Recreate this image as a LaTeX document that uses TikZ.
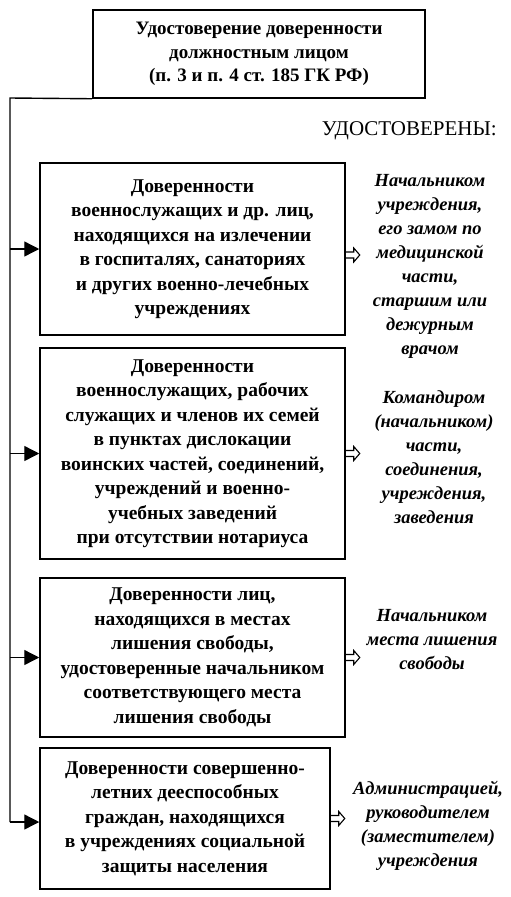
\documentclass[tikz,border=0pt]{standalone}
\usepackage{fontspec}
\setmainfont{Liberation Serif}
\usetikzlibrary{arrows.meta}
\begin{document}
\begin{tikzpicture}[x=1pt,y=-1pt,
  box/.style={draw, line width=1.5pt, inner sep=0pt, align=center,
    font=\bfseries\fontsize{19.5}{24.5}\selectfont},
  lab/.style={align=center, inner sep=0pt, font=\bfseries\itshape\fontsize{18.5}{24}\selectfont},
  feed/.style={line width=1.4pt, -{Triangle[length=15pt,width=15pt]}},
  holarrow/.pic={\draw[line width=1.1pt, line join=miter] (0,-3) -- (8,-3) -- (8,-7) -- (14,0) -- (8,7) -- (8,3) -- (0,3);}]
\useasboundingbox (0,0) rectangle (511,897);
\node[box, minimum width=332pt, minimum height=88pt, font=\bfseries\fontsize{19}{23.5}\selectfont] (top) at (259,54)
  {Удостоверение доверенности\\ должностным лицом\\ (п. 3 и п. 4 ст. 185 ГК РФ)};
\node[anchor=east, inner sep=0pt, font=\fontsize{21}{24}\selectfont] (ud) at (497,131) {УДОСТОВЕРЕНЫ:};

\node[box, minimum width=305pt, minimum height=172pt] (b1) at (192.5,249)
  {Доверенности\\ военнослужащих и др. лиц,\\ находящихся на излечении\\ в госпиталях, санаториях\\ и других военно-лечебных\\ учреждениях};
\node[box, minimum width=305pt, minimum height=211pt] (b2) at (192.5,453.5)
  {Доверенности\\ военнослужащих, рабочих\\ служащих и членов их семей\\ в пунктах дислокации\\ воинских частей, соединений,\\ учреждений и военно-\\ учебных заведений\\ при отсутствии нотариуса};
\node[box, minimum width=305pt, minimum height=159pt] (b3) at (192.5,657.5)
  {Доверенности лиц,\\ находящихся в местах\\ лишения свободы,\\ удостоверенные начальником\\ соответствующего места\\ лишения свободы};
\node[box, minimum width=290pt, minimum height=141pt] (b4) at (185,818.5)
  {Доверенности совершенно-\\ летних дееспособных\\ граждан, находящихся\\ в учреждениях социальной\\ защиты населения};

\coordinate (c0) at (10,98);
\coordinate (c4) at (10,822);
\draw[line width=1.4pt] (top.south west) -- (c0) -- (c4);
\draw[feed] (c0 |- b1.west) -- (b1.west);
\draw[feed] (c0 |- b2.west) -- (b2.west);
\draw[feed] (c0 |- b3.west) -- (b3.west);
\draw[feed] (c4) -- (b4.west |- c4);

\node[lab] (l1) at (430,266) {Начальником\\ учреждения,\\ его замом по\\ медицинской\\ части,\\ старшим или\\ дежурным\\ врачом};
\node[lab] (l2) at (434,457) {Командиром\\ (начальником)\\ части,\\ соединения,\\ учреждения,\\ заведения};
\node[lab] (l3) at (432,640) {Начальником\\ места лишения\\ свободы};
\node[lab] (l4) at (428,826) {Администрацией,\\ руководителем\\ (заместителем)\\ учреждения};

\pic at ([yshift=-6pt]b1.east) {holarrow};
\pic at (b2.east) {holarrow};
\pic at (b3.east) {holarrow};
\pic at (b4.east) {holarrow};
\end{tikzpicture}
\end{document}
